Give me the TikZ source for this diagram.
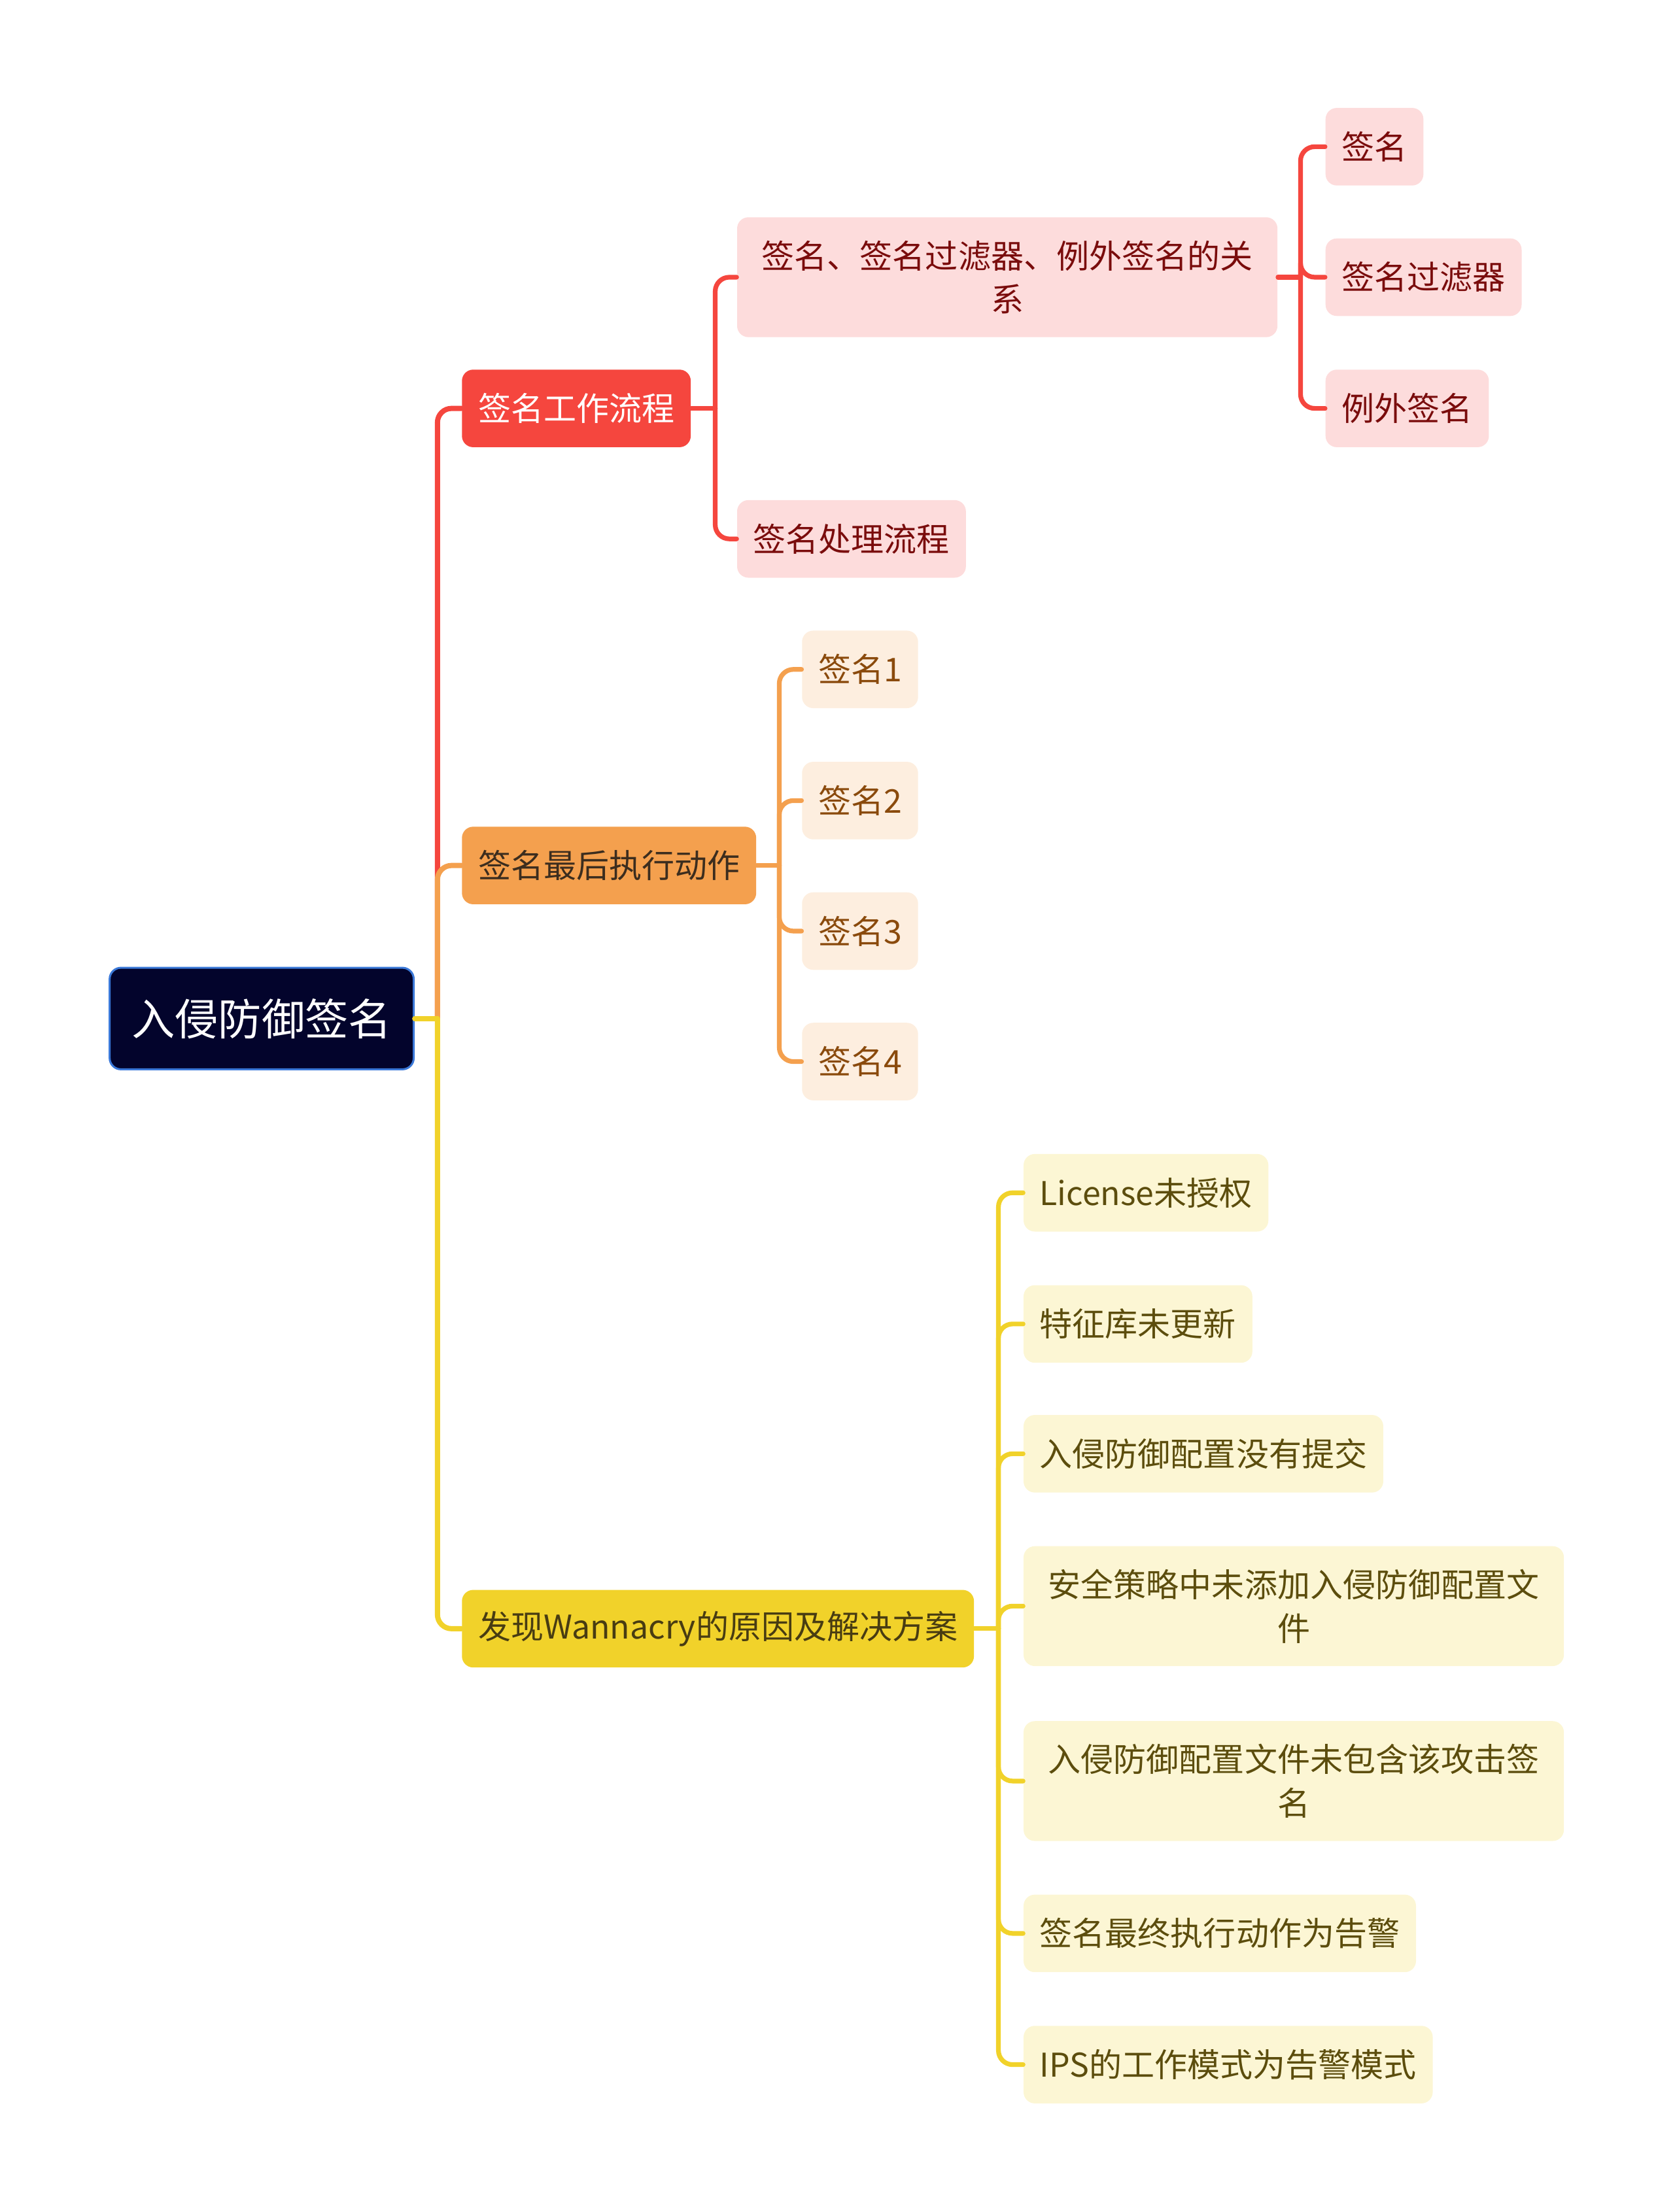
\documentclass[tikz,border=0pt]{standalone}
\usepackage{fontspec}
\setmainfont{Noto Sans CJK SC}
\usepackage{tikz}
\definecolor{rootfill}{RGB}{3,4,44}
\definecolor{rootline}{RGB}{58,120,216}
\definecolor{redmain}{RGB}{245,70,62}
\definecolor{orgmain}{RGB}{244,160,78}
\definecolor{ylwmain}{RGB}{241,210,42}
\definecolor{redsoft}{RGB}{253,220,220}
\definecolor{orgsoft}{RGB}{253,238,223}
\definecolor{ylwsoft}{RGB}{252,246,212}
\definecolor{redtext}{RGB}{122,12,12}
\definecolor{orgtext}{RGB}{138,74,12}
\definecolor{ylwtext}{RGB}{92,77,13}
\definecolor{orgdark}{RGB}{60,45,30}
\definecolor{ylwdark}{RGB}{72,60,18}

\begin{document}
\begin{tikzpicture}[x=0.02cm,y=-0.02cm,
  box/.style={rounded corners=0.16cm,anchor=west,minimum height=1.1cm,inner xsep=0.23cm,font=\fontsize{13.2pt}{17.6pt}\selectfont},
  rootbox/.style={box,fill=rootfill,draw=rootline,line width=0.8pt,text=white,minimum height=1.44cm,inner xsep=0.31cm,font=\fontsize{17.5pt}{21pt}\selectfont},
  redleaf/.style={box,fill=redsoft,text=redtext},
  orgleaf/.style={box,fill=orgsoft,text=orgtext},
  ylwleaf/.style={box,fill=ylwsoft,text=ylwtext},
  twoline/.style={minimum height=1.7cm,text width=7.2cm,align=center},
  mainwire/.style={line width=2.1pt,line cap=round,rounded corners=0.2cm},
  subwire/.style={line width=1.9pt,line cap=round,rounded corners=0.2cm}]
\useasboundingbox (0,0) rectangle (1187,1568);
\node[rootbox] (root) at (77,722) {入侵防御签名};
\node[box,fill=redmain,text=white] (flow) at (327,289.5) {签名工作流程};
\node[box,fill=orgmain,text=orgdark] (act) at (327,613.5) {签名最后执行动作};
\node[box,fill=ylwmain,text=ylwdark] (cause) at (327,1154.5) {发现Wannacry的原因及解决方案};
% red branch
\node[redleaf,twoline] (rel) at (522,196.5) {签名、签名过滤器、例外签名的关\\系};
\node[redleaf] (proc) at (522,382) {签名处理流程};
\node[redleaf] (sig) at (939,104) {签名};
\node[redleaf] (filt) at (939,196.5) {签名过滤器};
\node[redleaf] (exc) at (939,289.5) {例外签名};
% orange branch
\foreach \i/\y in {1/474.5,2/567.5,3/660,4/752.5}
  \node[orgleaf] (s\i) at (568,\y) {签名\i};
% yellow branch
\node[ylwleaf] (c1) at (725,845.5) {License未授权};
\node[ylwleaf] (c2) at (725,938.5) {特征库未更新};
\node[ylwleaf] (c3) at (725,1030.5) {入侵防御配置没有提交};
\node[ylwleaf,twoline] (c4) at (725,1138.5) {安全策略中未添加入侵防御配置文\\件};
\node[ylwleaf,twoline] (c5) at (725,1262.5) {入侵防御配置文件未包含该攻击签\\名};
\node[ylwleaf] (c6) at (725,1370.5) {签名最终执行动作为告警};
\node[ylwleaf] (c7) at (725,1463.5) {IPS的工作模式为告警模式};

\coordinate (hub) at (310,722);
\draw[mainwire,redmain] (hub) |- (flow.west);
\draw[mainwire,orgmain] (hub) |- (act.west);
\draw[mainwire,ylwmain] (hub) |- (cause.west);
\draw[mainwire,ylwmain] (root.east) -- (hub);

\draw[subwire,redmain] (flow.east) -- ++(17,0) coordinate (fh);
\draw[subwire,redmain] (fh) |- (rel.west);
\draw[subwire,redmain] (fh) |- (proc.west);
\draw[subwire,redmain] (rel.east) -- ++(16,0) coordinate (rh);
\foreach \n in {sig,filt,exc} \draw[subwire,redmain] (rh) |- (\n.west);

\draw[subwire,orgmain] (act.east) -- ++(16,0) coordinate (ah);
\foreach \i in {1,...,4} \draw[subwire,orgmain] (ah) |- (s\i.west);

\draw[subwire,ylwmain] (cause.east) -- ++(17,0) coordinate (ch);
\foreach \i in {1,...,7} \draw[subwire,ylwmain] (ch) |- (c\i.west);
\end{tikzpicture}
\end{document}
